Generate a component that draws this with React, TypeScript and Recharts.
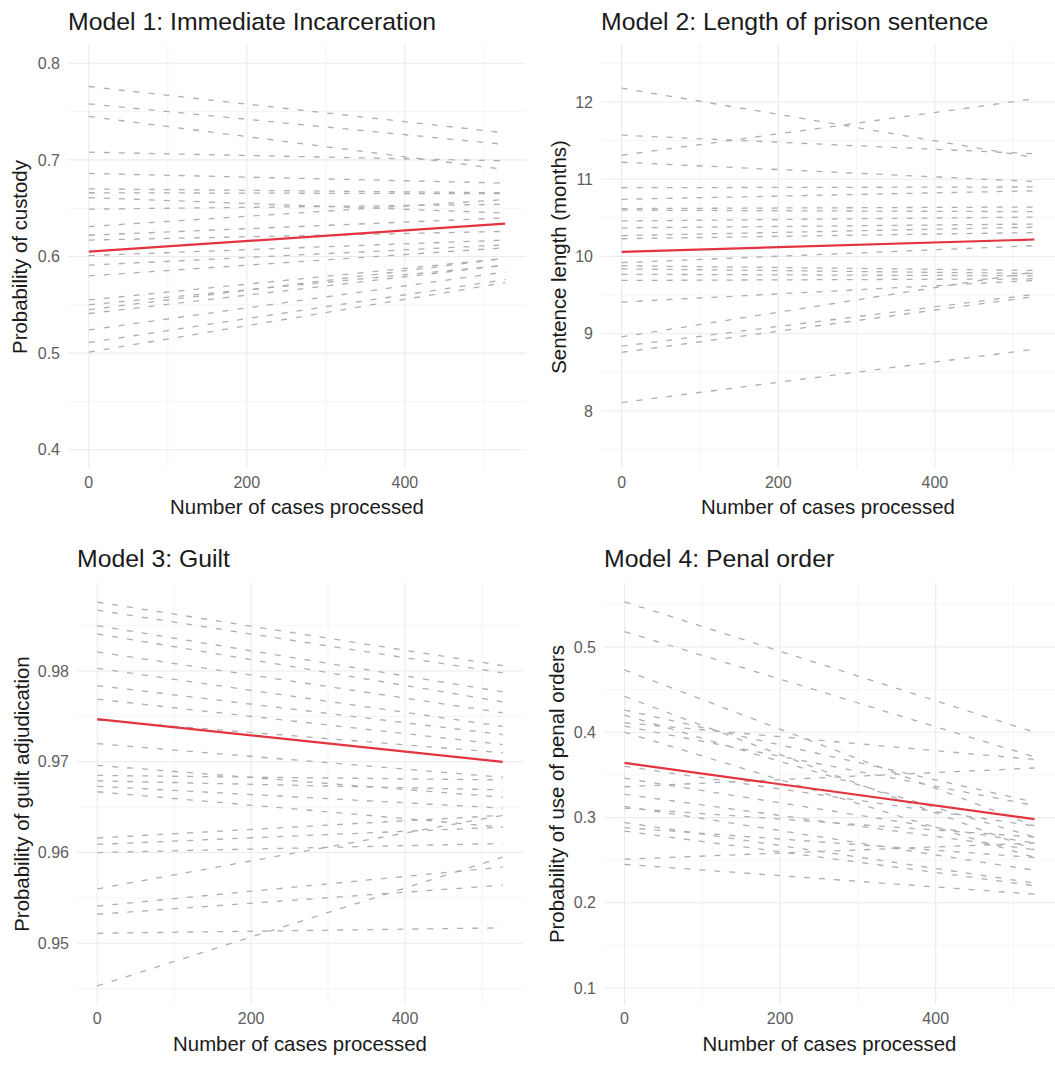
import React from "react";
import { CartesianGrid, Line, LineChart, XAxis, YAxis } from "recharts";

// x positions (number of cases processed) at which each court line starts and ends
const xCases = [0, 527];
const xMajor = [0, 200, 400];
const xMinor = [100, 300, 500];

// Model 1: Immediate incarceration, probability of custody
const m1Start = [0.776, 0.758, 0.745, 0.708, 0.686, 0.670, 0.666, 0.661, 0.649, 0.631, 0.622, 0.617, 0.601, 0.591, 0.580, 0.555, 0.550, 0.545, 0.541, 0.524, 0.511, 0.501];
const m1End = [0.728, 0.716, 0.690, 0.699, 0.676, 0.666, 0.665, 0.645, 0.654, 0.659, 0.640, 0.626, 0.617, 0.612, 0.609, 0.598, 0.591, 0.598, 0.591, 0.584, 0.576, 0.573];
const m1Avg = [0.605, 0.634];

// Model 2: Length of prison sentence (months)
const m2Start = [12.18, 11.57, 11.31, 11.22, 10.89, 10.74, 10.62, 10.60, 10.46, 10.37, 10.27, 10.23, 9.92, 9.88, 9.84, 9.77, 9.69, 9.41, 8.96, 8.84, 8.76, 8.11];
const m2End = [11.28, 11.33, 12.04, 10.97, 10.90, 10.85, 10.64, 10.58, 10.51, 10.42, 10.38, 10.31, 10.14, 9.82, 9.78, 9.75, 9.71, 9.69, 9.80, 9.51, 9.48, 8.80];
const m2Avg = [10.06, 10.22];

// Model 3: Guilt, probability of guilt adjudication
const m3Start = [0.9876, 0.9867, 0.9850, 0.9841, 0.9821, 0.9803, 0.9784, 0.9769, 0.9746, 0.9720, 0.9696, 0.9685, 0.9679, 0.9673, 0.9667, 0.9616, 0.9609, 0.9600, 0.9560, 0.9541, 0.9532, 0.9511, 0.9453];
const m3End = [0.9806, 0.9798, 0.9777, 0.9766, 0.9754, 0.9739, 0.9730, 0.9719, 0.9710, 0.9683, 0.9661, 0.9680, 0.9669, 0.9649, 0.9628, 0.9641, 0.9628, 0.9610, 0.9641, 0.9584, 0.9564, 0.9517, 0.9595];
const m3Avg = [0.9747, 0.9700];

// Model 4: Penal order, probability of use of penal orders
const m4Start = [0.553, 0.518, 0.473, 0.442, 0.426, 0.420, 0.411, 0.407, 0.400, 0.360, 0.346, 0.336, 0.327, 0.313, 0.311, 0.294, 0.288, 0.284, 0.251, 0.245];
const m4End = [0.400, 0.371, 0.290, 0.262, 0.318, 0.277, 0.368, 0.314, 0.253, 0.290, 0.270, 0.358, 0.262, 0.238, 0.277, 0.223, 0.253, 0.220, 0.270, 0.210];
const m4Avg = [0.364, 0.298];

type Box = { l: number; r: number; t: number; b: number };

type PanelProps = {
  title: string;
  yLabel: string;
  starts: number[];
  ends: number[];
  avg: number[];
  yDomain: [number, number];
  yMajor: number[];
  yMinor: number[];
  fmt: (v: number) => string;
  left: number;
  top: number;
  width: number;
  height: number;
  plot: Box;
  titleY: number;
  yTitleX: number;
  xTitleY: number;
};

const FONT = "'Liberation Sans', Arial, Helvetica, sans-serif";

function buildRows(starts: number[], ends: number[], avg: number[]) {
  return xCases.map((x, j) => {
    const row: Record<string, number> = { x, avg: avg[j] };
    starts.forEach((s, i) => {
      row[`c${i}`] = j === 0 ? s : ends[i];
    });
    return row;
  });
}

function Panel(p: PanelProps) {
  const rows = buildRows(p.starts, p.ends, p.avg);
  const yW = 50;
  const xH = 30;
  const margin = {
    top: p.plot.t,
    right: p.width - p.plot.r,
    left: p.plot.l - yW,
    bottom: p.height - p.plot.b - xH,
  };
  const midY = (p.plot.t + p.plot.b) / 2;
  const midX = (p.plot.l + p.plot.r) / 2;
  return (
    <div style={{ position: "absolute", left: p.left, top: p.top, width: p.width, height: p.height }}>
      <div
        style={{
          position: "absolute",
          left: p.plot.l,
          top: p.titleY - 14,
          height: 28,
          lineHeight: "28px",
          fontSize: 24.8,
          color: "#1a1a1a",
          whiteSpace: "nowrap",
        }}
      >
        {p.title}
      </div>
      <LineChart width={p.width} height={p.height} data={rows} margin={margin}>
        <CartesianGrid
          stroke="#f1f1f1"
          strokeWidth={0.7}
          horizontalValues={p.yMinor}
          verticalValues={xMinor}
        />
        <CartesianGrid
          stroke="#ebebeb"
          strokeWidth={1.1}
          horizontalValues={p.yMajor}
          verticalValues={xMajor}
        />
        <XAxis
          type="number"
          dataKey="x"
          domain={[-26.35, 553.35]}
          ticks={xMajor}
          axisLine={false}
          tickLine={false}
          height={xH}
          tick={{ fontSize: 16, fill: "#5e5e5e", fontFamily: FONT }}
        />
        <YAxis
          type="number"
          domain={p.yDomain}
          ticks={p.yMajor}
          tickFormatter={p.fmt}
          axisLine={false}
          tickLine={false}
          width={yW}
          allowDataOverflow
          tick={{ fontSize: 16, fill: "#5e5e5e", fontFamily: FONT }}
        />
        {p.starts.map((_, i) => (
          <Line
            key={i}
            type="linear"
            dataKey={`c${i}`}
            stroke="#afafaf"
            strokeWidth={1.3}
            strokeDasharray="6 9"
            dot={false}
            activeDot={false}
            isAnimationActive={false}
          />
        ))}
        <Line
          type="linear"
          dataKey="avg"
          stroke="#e3343f"
          strokeWidth={2.2}
          dot={false}
          activeDot={false}
          isAnimationActive={false}
        />
      </LineChart>
      <div
        style={{
          position: "absolute",
          left: midX - 200,
          width: 400,
          top: p.xTitleY - 12,
          height: 24,
          lineHeight: "24px",
          textAlign: "center",
          fontSize: 20.4,
          color: "#1a1a1a",
        }}
      >
        Number of cases processed
      </div>
      <div
        style={{
          position: "absolute",
          left: p.yTitleX - 200,
          top: midY - 12,
          width: 400,
          height: 24,
          lineHeight: "24px",
          textAlign: "center",
          fontSize: 20.4,
          color: "#1a1a1a",
          transform: "rotate(-90deg)",
          whiteSpace: "nowrap",
        }}
      >
        {p.yLabel}
      </div>
    </div>
  );
}

const f1 = (v: number) => v.toFixed(1);
const f2 = (v: number) => v.toFixed(2);
const f0 = (v: number) => v.toFixed(0);

export default function App() {
  return (
    <div
      style={{
        position: "absolute",
        left: 0,
        top: 0,
        width: 1055,
        height: 1068,
        overflow: "hidden",
        background: "#ffffff",
        fontFamily: FONT,
      }}
    >
      <Panel
        title="Model 1: Immediate Incarceration"
        yLabel="Probability of custody"
        starts={m1Start}
        ends={m1End}
        avg={m1Avg}
        yDomain={[0.38, 0.82]}
        yMajor={[0.4, 0.5, 0.6, 0.7, 0.8]}
        yMinor={[0.45, 0.55, 0.65, 0.75]}
        fmt={f1}
        left={0}
        top={0}
        width={527}
        height={534}
        plot={{ l: 68, r: 526, t: 44, b: 469 }}
        titleY={22}
        yTitleX={20}
        xTitleY={507}
      />
      <Panel
        title="Model 2: Length of prison sentence"
        yLabel="Sentence length (months)"
        starts={m2Start}
        ends={m2End}
        avg={m2Avg}
        yDomain={[7.25, 12.75]}
        yMajor={[8, 9, 10, 11, 12]}
        yMinor={[7.5, 8.5, 9.5, 10.5, 11.5, 12.5]}
        fmt={f0}
        left={527}
        top={0}
        width={528}
        height={534}
        plot={{ l: 74, r: 528, t: 44, b: 469 }}
        titleY={22}
        yTitleX={32}
        xTitleY={507}
      />
      <Panel
        title="Model 3: Guilt"
        yLabel="Probability of guilt adjudication"
        starts={m3Start}
        ends={m3End}
        avg={m3Avg}
        yDomain={[0.9432, 0.9897]}
        yMajor={[0.95, 0.96, 0.97, 0.98]}
        yMinor={[0.945, 0.955, 0.965, 0.975, 0.985]}
        fmt={f2}
        left={0}
        top={534}
        width={527}
        height={534}
        plot={{ l: 77, r: 523, t: 49, b: 471 }}
        titleY={25}
        yTitleX={22}
        xTitleY={510}
      />
      <Panel
        title="Model 4: Penal order"
        yLabel="Probability of use of penal orders"
        starts={m4Start}
        ends={m4End}
        avg={m4Avg}
        yDomain={[0.08, 0.575]}
        yMajor={[0.1, 0.2, 0.3, 0.4, 0.5]}
        yMinor={[0.15, 0.25, 0.35, 0.45, 0.55]}
        fmt={f1}
        left={527}
        top={534}
        width={528}
        height={534}
        plot={{ l: 77, r: 528, t: 49, b: 471 }}
        titleY={25}
        yTitleX={30}
        xTitleY={510}
      />
    </div>
  );
}
